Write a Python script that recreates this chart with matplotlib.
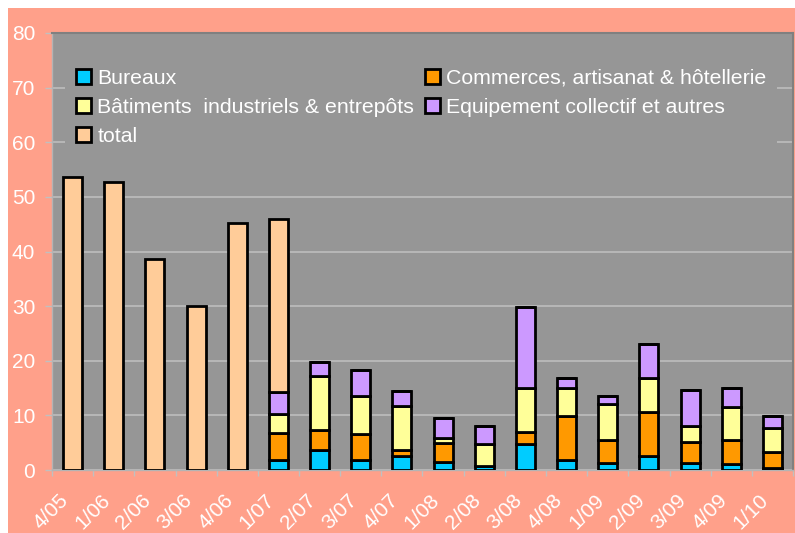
import numpy as np
import matplotlib.pyplot as plt
from matplotlib.patches import Rectangle

plt.rcParams['font.family'] = ['Liberation Sans', 'DejaVu Sans']

# trimestres
quarters = ['4/05', '1/06', '2/06', '3/06', '4/06', '1/07', '2/07', '3/07', '4/07',
            '1/08', '2/08', '3/08', '4/08', '1/09', '2/09', '3/09', '4/09', '1/10']

bureaux = [0, 0, 0, 0, 0, 1.8, 3.7, 1.8, 2.6, 1.4, 0.7, 4.8, 1.8, 1.3, 2.6, 1.3, 1.1, 0.4]
commerces = [0, 0, 0, 0, 0, 5.0, 3.6, 4.7, 1.1, 3.5, 0, 2.2, 8.0, 4.2, 8.1, 3.8, 4.4, 2.9]
batiments = [0, 0, 0, 0, 0, 3.4, 9.9, 7.0, 8.1, 1.0, 4.0, 8.1, 5.2, 6.6, 6.2, 2.9, 6.1, 4.4]
equipement = [0, 0, 0, 0, 0, 4.0, 2.6, 4.8, 2.6, 3.7, 3.3, 14.7, 1.9, 1.5, 6.2, 6.6, 3.4, 2.1]
total = [53.6, 52.8, 38.6, 30.0, 45.2, 31.7, 0, 0, 0, 0, 0, 0, 0, 0, 0, 0, 0, 0]

series = [
    ('Bureaux', bureaux, '#00ccff'),
    ('Commerces, artisanat & hôtellerie', commerces, '#ff9900'),
    ('Bâtiments  industriels & entrepôts', batiments, '#ffff99'),
    ('Equipement collectif et autres', equipement, '#cc99ff'),
    ('total', total, '#ffcc99'),
]

salmon = '#ffa08a'
grey = '#969696'

fig = plt.figure(figsize=[7.95, 5.33], dpi=100, facecolor='white')
fig.patches.append(Rectangle((8/795, 0), 1, 1 - 8/533, transform=fig.transFigure,
                             facecolor=salmon, edgecolor='none', zorder=-10))
ax = fig.add_axes([52/795, 1 - 470/533, 741/795, 437/533])
ax.set_facecolor(grey)

x = np.arange(len(quarters))
bottom = np.zeros(len(quarters))
bars = {}
for name, vals, col in series:
    vals = np.array(vals)
    b = ax.bar(x, vals, 0.46, bottom=bottom, color=col, edgecolor='black',
               linewidth=2.0, zorder=3)
    bars[name] = b
    bottom = bottom + vals

ax.set_xlim(-0.5, len(quarters) - 0.5)
ax.set_ylim(0, 80)
ax.set_yticks(range(0, 81, 10))
ax.yaxis.grid(True, color='#c0c0c0', linewidth=1.1, zorder=0)
ax.set_axisbelow(True)
ax.tick_params(axis='y', colors='#c0c0c0', labelcolor='white', labelsize=15,
               length=5, width=1, pad=7)

ax.set_xticks(x)
ax.set_xticklabels(quarters, rotation=45, ha='right', va='top')
ax.set_xticks(np.arange(-0.5, len(quarters), 1), minor=True)
ax.tick_params(axis='x', which='major', length=0, labelcolor='white', labelsize=15, pad=15)
ax.tick_params(axis='x', which='minor', length=4.5, width=1, colors='#c0c0c0')

for s in ['top', 'right']:
    ax.spines[s].set_color('#808080')
    ax.spines[s].set_linewidth(1.5)
for s in ['left', 'bottom']:
    ax.spines[s].set_color('#b4b4b4')
    ax.spines[s].set_linewidth(1)

order = ['Bureaux', 'Bâtiments  industriels & entrepôts', 'total',
         'Commerces, artisanat & hôtellerie', 'Equipement collectif et autres']
leg = ax.legend([bars[n] for n in order], order, ncol=2, loc='upper left',
                bbox_to_anchor=(0.018, 0.942), frameon=True, facecolor=grey,
                edgecolor='none', framealpha=1, fancybox=False, fontsize=15.3,
                handlelength=0.7, handleheight=0.7, handletextpad=0.3,
                columnspacing=0.5, labelspacing=0.46, borderpad=0.5, borderaxespad=0)
for t in leg.get_texts():
    t.set_color('white')
leg.set_zorder(5)

fig.savefig('out.png', dpi=100, facecolor='white')
